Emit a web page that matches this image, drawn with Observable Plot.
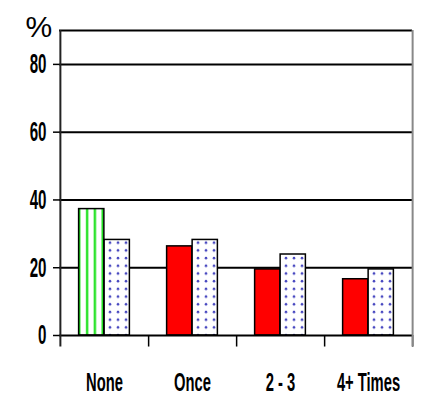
<!DOCTYPE html>
<html>
<head>
<meta charset="utf-8">
<script src="https://cdn.jsdelivr.net/npm/d3@7"></script>
<script src="https://cdn.jsdelivr.net/npm/@observablehq/plot@0.6"></script>
<style>
  html, body { margin: 0; padding: 0; background: #fff; }
</style>
</head>
<body>
<div id="chart"></div>
<script>
// ---- data ----
const categories = ["None", "Once", "2 - 3", "4+ Times"];
const seriesA = [37.3, 26.3, 19.5, 16.6];
const seriesB = [28.2, 28.2, 23.9, 19.5];
const yTicks = [0, 20, 40, 60, 80];
const gridValues = [20, 40, 60, 80, 90];
const yLabel = "%";

// ---- layout ----
const W = 422, H = 400;
const mL = 59, mR = 10, mT = 30, mB = 65;
const bw = (W - mL - mR) / categories.length;
const outer = bw * 0.211, inner = bw * 0.5;
const below = -3.4; // tick extension below baseline (in y units)

const rowsA = categories.map((c, i) => ({category: c, value: seriesA[i]}));
const rowsB = categories.map((c, i) => ({category: c, value: seriesB[i]}));

const svg = Plot.plot({
  width: W,
  height: H,
  marginLeft: mL,
  marginRight: mR,
  marginTop: mT,
  marginBottom: mB,
  style: {fontFamily: "Liberation Sans, Arial, sans-serif", background: "#fff", color: "#000"},
  x: {domain: categories, padding: 0, label: null},
  y: {domain: [0, 90], label: null},
  color: {type: "ordinal", domain: categories, range: ["url(#stripes)", "#ff0000", "#ff0000", "#ff0000"]},
  marks: [
    Plot.ruleY(gridValues, {stroke: "#000", strokeWidth: 2}),
    Plot.barY(rowsA, {x: "category", y: "value", fill: "category", stroke: "#000", strokeWidth: 1.5, insetLeft: outer, insetRight: inner}),
    Plot.barY(rowsB, {x: "category", y: "value", fill: "url(#dots)", stroke: "#000", strokeWidth: 1.5, insetLeft: inner, insetRight: outer}),
    Plot.ruleY([0], {stroke: "#000", strokeWidth: 2}),
    // category boundary ticks below the baseline
    Plot.ruleX(categories, {x: d => d, dx: bw / 2, y1: 0, y2: below, stroke: "#000", strokeWidth: 1.5}),
    // left axis line
    Plot.ruleX([categories[0]], {x: d => d, dx: -bw / 2, y1: below, y2: 90, stroke: "#222", strokeWidth: 2}),
    // right edge
    Plot.ruleX([categories[categories.length - 1]], {x: d => d, dx: bw / 2, y1: below, y2: 90, stroke: "#888", strokeWidth: 2}),
    Plot.axisY({ticks: yTicks, tickSize: 6, tickPadding: 7, fontSize: 28, fontWeight: "bold", stroke: "#000", strokeWidth: 1.5, label: null}),
    Plot.axisX({tickSize: 0, tickPadding: 38, fontSize: 25, fontWeight: "bold", label: null}),
    Plot.text([yLabel], {frameAnchor: "top-left", text: d => d, dx: -34, dy: -3.5, fontSize: 30, textAnchor: "start", lineAnchor: "middle", fill: "#000"})
  ]
});

// patterns
const s = d3.select(svg);
const defs = s.insert("defs", ":first-child");
const stripes = defs.append("pattern").attr("id", "stripes").attr("patternUnits", "userSpaceOnUse")
  .attr("width", 7.8).attr("height", 10);
stripes.append("rect").attr("width", 7.8).attr("height", 10).attr("fill", "#fff");
stripes.append("rect").attr("x", 0.2).attr("width", 2.2).attr("height", 10).attr("fill", "#11e011");
const dots = defs.append("pattern").attr("id", "dots").attr("patternUnits", "userSpaceOnUse")
  .attr("width", 8).attr("height", 7.7);
dots.append("rect").attr("width", 8).attr("height", 7.7).attr("fill", "#fff");
dots.append("circle").attr("cx", 6).attr("cy", 4).attr("r", 1.3).attr("fill", "#4848c0");

// condensed tick labels
function condense(sel, sx) {
  sel.attr("transform", function () {
    const t = this.getAttribute("transform") || "";
    return t + ` scale(${sx},1)`;
  });
}
condense(s.selectAll('g[aria-label="y-axis tick label"] text'), 0.54);
condense(s.selectAll('g[aria-label="x-axis tick label"] text'), 0.59);

document.getElementById("chart").appendChild(svg);
</script>
</body>
</html>
